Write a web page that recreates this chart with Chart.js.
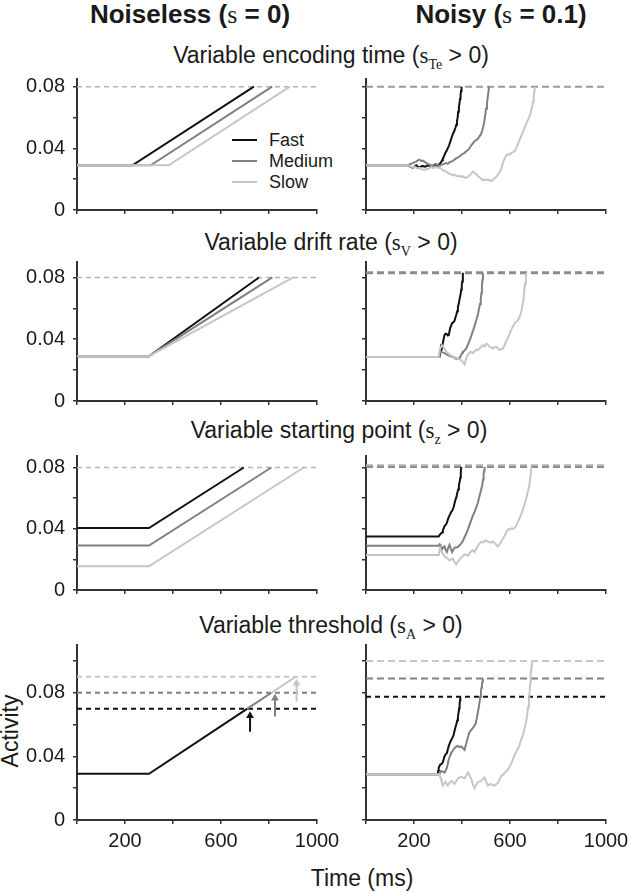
<!DOCTYPE html>
<html>
<head>
<meta charset="utf-8">
<script src="https://cdn.jsdelivr.net/npm/chart.js@4.4.1/dist/chart.umd.min.js"></script>
<style>
body { margin: 0; background: #fff; width: 629px; height: 893px; position: relative; overflow: hidden;
       font-family: "Liberation Sans", Arial, sans-serif; color: #1a1a1a; }
canvas { position: absolute; }
.lab { position: absolute; white-space: nowrap; line-height: 1; transform: translate(-50%, -50%); }
.hd { font-weight: bold; font-size: 26px; }
.tt { font-size: 23px; }
.sv { font-family: "Liberation Serif", serif; font-weight: normal; }
sub { font-family: "Liberation Serif", serif; font-size: 14px; vertical-align: -6px; line-height: 0; }
.leg { position: absolute; left: 269px; font-size: 18px; line-height: 1; transform: translateY(-50%); }
.sw { position: absolute; left: 232px; width: 25px; height: 2px; }
</style>
</head>
<body>

<div class="lab hd" style="left:190px; top:14px">Noiseless (<span class="sv">s</span> = 0)</div>
<div class="lab hd" style="left:501px; top:14px">Noisy (<span class="sv">s</span> = 0.1)</div>

<div class="lab tt" style="left:331px; top:55px">Variable encoding time (<span class="sv">s</span><sub>Te</sub> &gt; 0)</div>
<div class="lab tt" style="left:331px; top:242px">Variable drift rate (<span class="sv">s</span><sub>V</sub> &gt; 0)</div>
<div class="lab tt" style="left:339px; top:430px">Variable starting point (<span class="sv">s</span><sub>z</sub> &gt; 0)</div>
<div class="lab tt" style="left:331px; top:625px">Variable threshold (<span class="sv">s</span><sub>A</sub> &gt; 0)</div>

<div class="lab tt" style="left:362px; top:878px">Time (ms)</div>
<div class="lab tt" style="left:10px; top:731px; transform: translate(-50%, -50%) rotate(-90deg)">Activity</div>

<div class="sw" style="top:139px; background:#111"></div>
<div class="sw" style="top:160px; background:#808080"></div>
<div class="sw" style="top:181px; background:#c6c6c6"></div>
<div class="leg" style="top:140px">Fast</div>
<div class="leg" style="top:161px">Medium</div>
<div class="leg" style="top:182px">Slow</div>

<script>
// ---- noiseless (s = 0): [time ms, activity]
const encFast = [[0, 0.029], [231, 0.029], [737, 0.08]];
const encMed = [[0, 0.029], [307, 0.029], [813, 0.08]];
const encSlow = [[0, 0.029], [382, 0.029], [887, 0.08]];
const driftFast = [[0, 0.029], [300, 0.029], [758, 0.08]];
const driftMed = [[0, 0.029], [300, 0.029], [814, 0.08]];
const driftSlow = [[0, 0.029], [300, 0.029], [901, 0.08]];
const startFast = [[0, 0.0405], [300, 0.0405], [695, 0.08]];
const startMed = [[0, 0.029], [300, 0.029], [810, 0.08]];
const startSlow = [[0, 0.0155], [300, 0.0155], [945, 0.08]];
const threshFast = [[0, 0.029], [300, 0.029], [710, 0.07]];
const threshMed = [[710, 0.07], [810, 0.08]];
const threshSlow = [[810, 0.08], [910, 0.09]];
const arrowFast = [[721, 0.0555], [721, 0.0655]];
const arrowMed = [[825, 0.0651], [825, 0.0765]];
const arrowSlow = [[915, 0.0745], [915, 0.086]];
const noiselessBound = 0.08;
const threshBounds = [0.07, 0.08, 0.09];

// ---- noisy (s = 0.1)
const encNoisyFast = [[0, 0.029], [174, 0.029], [178, 0.0287], [181, 0.0284], [188, 0.0279], [195, 0.0275], [202, 0.0283],
  [209, 0.029], [216, 0.0282], [223, 0.0277], [230, 0.0283], [237, 0.0286], [244, 0.0281], [251, 0.0284], [258, 0.029],
  [264, 0.0286], [271, 0.0282], [278, 0.0286], [285, 0.0291], [292, 0.0284], [299, 0.0286], [306, 0.0297], [313, 0.031],
  [317, 0.0322], [320, 0.0331], [325, 0.0349], [331, 0.0371], [336, 0.0384], [341, 0.0402], [346, 0.0418], [351, 0.0443],
  [356, 0.0466], [362, 0.0494], [367, 0.0509], [373, 0.0535], [376, 0.0551], [379, 0.0575], [382, 0.0603], [384, 0.0637],
  [387, 0.0664], [390, 0.0698], [392, 0.0722], [394, 0.0749], [396, 0.0772], [398, 0.08]];
const encNoisyMed = [[0, 0.029], [174, 0.029], [181, 0.0296], [188, 0.0301], [195, 0.0304], [202, 0.0311], [209, 0.0314],
  [216, 0.0322], [223, 0.0327], [230, 0.0318], [237, 0.032], [244, 0.0312], [251, 0.0306], [258, 0.0299], [264, 0.0294],
  [271, 0.029], [278, 0.0286], [285, 0.0296], [292, 0.03], [299, 0.0291], [306, 0.0286], [313, 0.0293], [320, 0.0296],
  [327, 0.0301], [334, 0.0304], [341, 0.0299], [348, 0.031], [355, 0.0314], [362, 0.0318], [369, 0.0327], [376, 0.0335],
  [383, 0.0341], [390, 0.0347], [397, 0.0358], [404, 0.0365], [411, 0.0371], [418, 0.0382], [425, 0.0389], [432, 0.0402],
  [439, 0.0421], [446, 0.0433], [452, 0.0446], [459, 0.0453], [466, 0.0462], [473, 0.0478], [479, 0.0492], [484, 0.0514],
  [489, 0.0543], [493, 0.0576], [497, 0.0618], [500, 0.0657], [504, 0.0694], [507, 0.0729], [510, 0.0765], [513, 0.08]];
const encNoisySlow = [[0, 0.029], [174, 0.029], [181, 0.0286], [188, 0.0281], [195, 0.0278], [202, 0.0283], [209, 0.0274],
  [216, 0.0269], [223, 0.0275], [230, 0.0266], [237, 0.0262], [244, 0.0259], [251, 0.0268], [258, 0.0264], [265, 0.0273],
  [272, 0.0279], [279, 0.0271], [285, 0.0276], [292, 0.028], [299, 0.0273], [306, 0.0276], [313, 0.0269], [320, 0.0259],
  [327, 0.0253], [334, 0.0249], [341, 0.0241], [348, 0.0236], [355, 0.0229], [362, 0.0225], [369, 0.0231], [376, 0.0222],
  [383, 0.0218], [390, 0.0222], [397, 0.0214], [404, 0.0219], [411, 0.0211], [418, 0.0208], [425, 0.0216], [432, 0.0225],
  [439, 0.0238], [446, 0.0249], [452, 0.024], [459, 0.0233], [466, 0.0221], [473, 0.0212], [480, 0.0203], [487, 0.0192],
  [494, 0.0199], [501, 0.0194], [508, 0.0198], [515, 0.0191], [522, 0.0188], [529, 0.0197], [536, 0.0208], [543, 0.0215],
  [550, 0.0229], [557, 0.0248], [564, 0.0269], [569, 0.0298], [574, 0.032], [580, 0.0341], [585, 0.0355], [592, 0.0362],
  [599, 0.0358], [606, 0.0371], [613, 0.0376], [620, 0.0382], [627, 0.0405], [634, 0.0433], [641, 0.0459], [648, 0.0484],
  [654, 0.0507], [661, 0.0535], [668, 0.0561], [675, 0.0586], [680, 0.0603], [685, 0.0627], [689, 0.0648], [693, 0.0678],
  [696, 0.0705], [699, 0.0739], [701, 0.077], [703, 0.08]];
const driftNoisyFast = [[0, 0.0285], [306, 0.0285], [309, 0.0322], [313, 0.0355], [316, 0.0348], [320, 0.0371], [323, 0.0398],
  [327, 0.0427], [332, 0.0436], [337, 0.0433], [341, 0.0424], [345, 0.0427], [348, 0.0452], [351, 0.0474], [355, 0.0488],
  [359, 0.0505], [364, 0.0509], [369, 0.052], [372, 0.0538], [376, 0.0557], [380, 0.0581], [383, 0.0608], [387, 0.0634],
  [390, 0.066], [394, 0.0691], [397, 0.0722], [399, 0.0748], [401, 0.0773], [403, 0.08], [404, 0.083]];
const driftNoisyMed = [[0, 0.0285], [303, 0.0285], [306, 0.0309], [313, 0.0318], [320, 0.0315], [327, 0.031], [334, 0.0303],
  [341, 0.0298], [348, 0.0293], [355, 0.0289], [362, 0.0285], [369, 0.0281], [376, 0.0272], [383, 0.0276], [390, 0.0278],
  [394, 0.029], [397, 0.0299], [401, 0.0312], [404, 0.032], [411, 0.0327], [418, 0.034], [425, 0.0366], [432, 0.0392],
  [438, 0.0418], [443, 0.0443], [448, 0.0464], [452, 0.0485], [457, 0.051], [462, 0.0536], [467, 0.0567], [471, 0.0598],
  [475, 0.0628], [478, 0.066], [481, 0.07], [483, 0.0742], [485, 0.0785], [487, 0.083]];
const driftNoisySlow = [[0, 0.0285], [303, 0.0285], [306, 0.032], [311, 0.0345], [317, 0.0361], [322, 0.035], [327, 0.034],
  [334, 0.0322], [341, 0.0309], [348, 0.0301], [355, 0.0294], [362, 0.0289], [369, 0.0283], [376, 0.0279], [383, 0.0272],
  [390, 0.0269], [397, 0.0264], [404, 0.0251], [411, 0.0237], [415, 0.0262], [420, 0.0289], [426, 0.0302], [432, 0.0313],
  [439, 0.0318], [445, 0.0311], [452, 0.032], [459, 0.0334], [466, 0.0328], [473, 0.034], [480, 0.0352], [487, 0.0361],
  [494, 0.0354], [501, 0.0371], [508, 0.0363], [515, 0.0351], [522, 0.0345], [529, 0.034], [536, 0.0348], [543, 0.0351],
  [550, 0.0339], [557, 0.033], [564, 0.0337], [571, 0.034], [577, 0.0361], [582, 0.0381], [587, 0.0397], [592, 0.0412],
  [599, 0.0437], [606, 0.0464], [613, 0.0484], [620, 0.0505], [627, 0.0513], [634, 0.0526], [639, 0.054], [643, 0.0557],
  [648, 0.0588], [652, 0.0619], [655, 0.065], [657, 0.068], [660, 0.072], [663, 0.0763], [666, 0.08], [668, 0.083]];
const startNoisyFast = [[0, 0.035], [303, 0.035], [308, 0.0362], [313, 0.0371], [317, 0.0376], [320, 0.0387], [324, 0.0404],
  [327, 0.0417], [332, 0.0425], [337, 0.0438], [341, 0.046], [345, 0.0478], [350, 0.0492], [355, 0.0509], [360, 0.0521],
  [365, 0.054], [369, 0.0566], [373, 0.059], [377, 0.0608], [380, 0.0631], [384, 0.0657], [387, 0.0682], [390, 0.0705],
  [393, 0.0733], [395, 0.0768], [397, 0.0804]];
const startNoisyMed = [[0, 0.0289], [303, 0.0289], [306, 0.0298], [310, 0.0295], [313, 0.0278], [317, 0.0265], [322, 0.0279],
  [327, 0.0285], [332, 0.0262], [337, 0.0248], [342, 0.0273], [348, 0.0295], [353, 0.0271], [359, 0.0248], [364, 0.0263],
  [369, 0.0275], [376, 0.0279], [383, 0.0281], [390, 0.0292], [397, 0.0305], [404, 0.0322], [411, 0.0346], [418, 0.0369],
  [425, 0.0397], [432, 0.0428], [439, 0.0458], [445, 0.0484], [452, 0.0509], [459, 0.0538], [466, 0.057], [471, 0.06],
  [476, 0.0631], [481, 0.0662], [485, 0.0692], [488, 0.0722], [490, 0.0753], [492, 0.0778], [494, 0.0804]];
const startNoisySlow = [[0, 0.0228], [303, 0.0228], [306, 0.026], [309, 0.0275], [313, 0.0258], [317, 0.0244], [324, 0.0229],
  [331, 0.0214], [338, 0.0208], [345, 0.0197], [348, 0.0193], [355, 0.0201], [362, 0.0204], [369, 0.0183], [376, 0.0167],
  [381, 0.0181], [387, 0.0193], [392, 0.0203], [397, 0.0214], [404, 0.0222], [411, 0.0234], [418, 0.0228], [425, 0.0224],
  [432, 0.0241], [439, 0.0254], [445, 0.0259], [452, 0.0248], [459, 0.0268], [466, 0.0289], [473, 0.0303], [480, 0.0316],
  [487, 0.0311], [494, 0.032], [501, 0.0324], [508, 0.0316], [515, 0.0312], [522, 0.0309], [529, 0.0318], [536, 0.0305],
  [543, 0.0296], [550, 0.0285], [557, 0.03], [564, 0.0316], [571, 0.0337], [578, 0.0356], [585, 0.0378], [592, 0.0397],
  [599, 0.0395], [606, 0.0403], [613, 0.0399], [620, 0.0407], [627, 0.0425], [634, 0.0448], [641, 0.0472], [648, 0.0499],
  [654, 0.0528], [661, 0.056], [667, 0.0594], [673, 0.0631], [678, 0.0665], [682, 0.0702], [686, 0.0752], [689, 0.0804]];
const threshNoisyFast = [[0, 0.0287], [299, 0.0287], [301, 0.031], [303, 0.0328], [307, 0.0342], [310, 0.0349], [315, 0.0352],
  [320, 0.0363], [324, 0.0384], [327, 0.04], [332, 0.0412], [337, 0.0421], [341, 0.0445], [345, 0.0466], [350, 0.0486],
  [355, 0.0503], [360, 0.0516], [365, 0.0534], [369, 0.0561], [373, 0.0585], [377, 0.0605], [380, 0.0626], [383, 0.065],
  [386, 0.0677], [388, 0.0702], [390, 0.0729], [392, 0.0752], [393, 0.0775]];
const threshNoisyMed = [[0, 0.0287], [306, 0.0287], [310, 0.0301], [313, 0.0308], [320, 0.0304], [327, 0.0298], [332, 0.0312],
  [337, 0.0328], [341, 0.0355], [345, 0.038], [350, 0.0402], [355, 0.0421], [362, 0.0437], [369, 0.0452], [376, 0.0461],
  [383, 0.0466], [390, 0.0458], [397, 0.0462], [404, 0.0451], [411, 0.0441], [414, 0.0462], [418, 0.0482], [423, 0.0511],
  [429, 0.0544], [436, 0.0562], [443, 0.0575], [450, 0.0588], [457, 0.0606], [462, 0.064], [466, 0.0677], [470, 0.0708],
  [473, 0.0739], [476, 0.0775], [479, 0.0811], [481, 0.0832], [483, 0.0852], [485, 0.087], [487, 0.0889]];
const threshNoisySlow = [[0, 0.0287], [306, 0.0287], [309, 0.0271], [313, 0.0257], [316, 0.0234], [320, 0.0216], [325, 0.0229],
  [331, 0.024], [336, 0.0227], [341, 0.0216], [348, 0.0233], [355, 0.0246], [362, 0.0237], [369, 0.0226], [376, 0.0245],
  [383, 0.0261], [390, 0.0268], [397, 0.0273], [404, 0.0266], [411, 0.0261], [418, 0.0281], [425, 0.0298], [432, 0.0278],
  [439, 0.0257], [445, 0.0225], [452, 0.0199], [459, 0.0221], [466, 0.0236], [473, 0.0241], [480, 0.0246], [487, 0.0258],
  [494, 0.0267], [501, 0.024], [508, 0.0216], [515, 0.0223], [522, 0.0226], [529, 0.0219], [536, 0.0216], [543, 0.0226],
  [550, 0.0232], [557, 0.0256], [564, 0.0277], [571, 0.0285], [578, 0.0298], [585, 0.0306], [592, 0.0318], [599, 0.0337],
  [606, 0.0359], [613, 0.0385], [620, 0.0411], [629, 0.0437], [638, 0.0462], [643, 0.0488], [648, 0.0513], [653, 0.0532],
  [657, 0.0554], [663, 0.059], [668, 0.0626], [672, 0.0665], [675, 0.0708], [679, 0.0758], [682, 0.0811], [684, 0.086],
  [686, 0.0914], [689, 0.0958], [691, 0.1]];
const encNoisyBound = 0.08;
const driftNoisyBound = 0.083;
const startNoisyBounds = [0.0803, 0.0815];
const threshNoisyBounds = [0.0775, 0.089, 0.1];

const xTicks = [200, 600, 1000];
const yTicks = [0, 0.04, 0.08];

const FAST = '#111111', MED = '#808080', SLOW = '#c6c6c6', GRAY = '#9a9a9a';

Chart.defaults.font.family = '"Liberation Sans", Arial, sans-serif';
Chart.defaults.color = '#1a1a1a';

function line(arr, color, width, dash, order) {
    return {
        data: arr.map(p => ({ x: p[0], y: p[1] })),
        showLine: true,
        borderColor: color,
        backgroundColor: color,
        borderWidth: width,
        borderDash: dash || [],
        pointRadius: 0,
        order: order
    };
}

function bound(v, color, width, dash) {
    return line([[0, v], [1000, v]], color, width, dash, 10);
}

function arrow(arr, color) {
    const ds = line(arr, color, 2, [], 0);
    ds.pointRadius = [0, 4.5];
    ds.pointStyle = 'triangle';
    ds.pointBorderWidth = 0;
    ds.pointBackgroundColor = color;
    return ds;
}

function near(v, list) {
    return list.find(t => Math.abs(t - v) < 1e-6);
}

// left: x of plot area, top: y of plot area, h: plot height
function panel(left, top, h, ymax, bottomRow, labelled, datasets) {
    const W = 76, PT = 16, PR = 30, PB = bottomRow ? 44 : 16, AW = 240;
    const cv = document.createElement('canvas');
    cv.width = W + AW + PR;
    cv.height = PT + h + PB;
    cv.style.left = (left - W) + 'px';
    cv.style.top = (top - PT) + 'px';
    document.body.appendChild(cv);
    const axisGrid = { display: true, drawOnChartArea: false, drawTicks: true, tickLength: 4, color: '#333', lineWidth: 1.5 };
    new Chart(cv.getContext('2d'), {
        type: 'scatter',
        data: { datasets: datasets },
        options: {
            responsive: false,
            animation: false,
            devicePixelRatio: 1,
            layout: { padding: { top: PT, right: PR, left: 0, bottom: 0 } },
            plugins: { legend: { display: false }, tooltip: { enabled: false } },
            scales: {
                x: {
                    type: 'linear', min: 0, max: 1000,
                    border: { display: true, color: '#333', width: 2 },
                    grid: axisGrid,
                    ticks: {
                        stepSize: 200, autoSkip: false, maxRotation: 0, padding: 5,
                        font: { size: 20 },
                        callback: v => (bottomRow && near(v, xTicks) !== undefined) ? String(v) : ''
                    },
                    afterFit: s => { s.height = PB; }
                },
                y: {
                    type: 'linear', min: 0, max: ymax,
                    border: { display: true, color: '#333', width: 2 },
                    grid: axisGrid,
                    ticks: {
                        stepSize: 0.02, autoSkip: false, includeBounds: false, padding: 8,
                        font: { size: 20 },
                        callback: v => {
                            if (!labelled) return '';
                            const t = near(v, yTicks);
                            return t === undefined ? '' : (t === 0 ? '0' : t.toFixed(2));
                        }
                    },
                    afterFit: s => { s.width = W; }
                }
            }
        }
    });
}

const LX = 77, RX = 366;
const dashL = [5, 4], dashR = [7, 4];

// row 1: encoding time
panel(LX, 75, 139, 0.085, false, true, [
    line(encSlow, SLOW, 2, [], 1), line(encMed, MED, 2, [], 2), line(encFast, FAST, 2, [], 3),
    bound(noiselessBound, '#b4b4b4', 1.5, dashL)
]);
panel(RX, 75, 139, 0.085, false, false, [
    line(encNoisySlow, SLOW, 2, [], 1), line(encNoisyMed, MED, 2, [], 2), line(encNoisyFast, FAST, 2, [], 3),
    bound(encNoisyBound, GRAY, 2, dashR)
]);

// row 2: drift rate
panel(LX, 258, 147, 0.09, false, true, [
    line(driftSlow, SLOW, 2, [], 1), line(driftMed, MED, 2, [], 2), line(driftFast, FAST, 2, [], 3),
    bound(noiselessBound, '#b4b4b4', 1.5, dashL)
]);
panel(RX, 258, 147, 0.09, false, false, [
    line(driftNoisySlow, SLOW, 2, [], 1), line(driftNoisyMed, MED, 2, [], 2), line(driftNoisyFast, FAST, 2, [], 3),
    bound(driftNoisyBound, '#8c8c8c', 3, dashR)
]);

// row 3: starting point
panel(LX, 452, 142, 0.0875, false, true, [
    line(startSlow, SLOW, 2, [], 1), line(startMed, MED, 2, [], 2), line(startFast, FAST, 2, [], 3),
    bound(noiselessBound, '#b4b4b4', 1.5, dashL)
]);
panel(RX, 452, 142, 0.0875, false, false, [
    line(startNoisySlow, SLOW, 2, [], 1), line(startNoisyMed, MED, 2, [], 2), line(startNoisyFast, FAST, 2, [], 3),
    bound(startNoisyBounds[0], '#8c8c8c', 2, dashR), bound(startNoisyBounds[1], '#b4b4b4', 2, dashR)
]);

// row 4: threshold
panel(LX, 641, 179, 0.11, true, true, [
    arrow(arrowFast, FAST), arrow(arrowMed, MED), arrow(arrowSlow, SLOW),
    line(threshSlow, SLOW, 2, [], 1), line(threshMed, MED, 2, [], 2), line(threshFast, FAST, 2, [], 3),
    bound(threshBounds[0], FAST, 2, dashL), bound(threshBounds[1], MED, 2, dashL), bound(threshBounds[2], SLOW, 2, dashL)
]);
panel(RX, 641, 179, 0.11, true, false, [
    line(threshNoisySlow, SLOW, 2, [], 1), line(threshNoisyMed, MED, 2, [], 2), line(threshNoisyFast, FAST, 2, [], 3),
    bound(threshNoisyBounds[0], FAST, 2, dashL), bound(threshNoisyBounds[1], MED, 2, dashR), bound(threshNoisyBounds[2], SLOW, 2, dashR)
]);
</script>
</body>
</html>
